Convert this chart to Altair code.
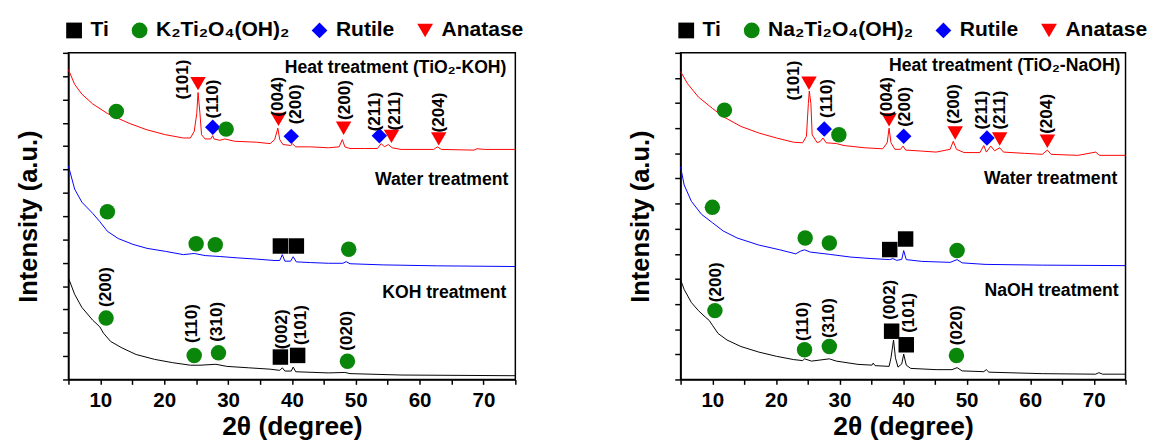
import altair as alt
import pandas as pd

FONT = "Liberation Sans"

# ---------------- data ----------------
# Left panel (KOH), y in arbitrary stacked units, domain 0..14
L_heat_x = [5.0, 5.97, 7.1, 8.8, 11.1, 14.5, 17.3, 20.2, 23.0, 24.1, 24.7, 25.1, 25.3, 25.6, 25.85, 26.4, 27.3, 27.6, 27.8, 28.7, 29.5, 31.0, 34.4, 36.6, 37.3, 37.8, 38.1, 38.6, 39.8, 40.1, 40.6, 42.9, 45.7, 47.4, 47.9, 48.3, 49.1, 51.4, 53.4, 54.0, 54.5, 55.1, 55.7, 57.1, 62.2, 62.8, 63.4, 68.5, 69.0, 70.2, 75.0]
L_heat_y = [13.28, 12.65, 12.23, 11.81, 11.40, 10.98, 10.70, 10.49, 10.35, 10.35, 10.63, 11.40, 12.30, 11.40, 10.49, 10.31, 10.31, 10.45, 10.31, 10.25, 10.31, 10.21, 10.17, 10.11, 10.28, 10.77, 10.28, 10.07, 10.03, 10.10, 9.97, 9.97, 9.93, 9.97, 10.28, 9.97, 9.90, 9.90, 9.90, 10.11, 9.97, 10.07, 9.93, 9.86, 9.86, 9.97, 9.86, 9.83, 9.89, 9.86, 9.86]
L_water_x = [5.0, 5.97, 7.1, 8.8, 9.9, 11.1, 12.8, 15.1, 17.3, 20.2, 23.0, 24.7, 26.4, 28.7, 31.5, 34.4, 37.2, 38.1, 38.5, 38.9, 39.8, 40.2, 40.7, 42.9, 45.7, 48.0, 48.5, 49.1, 54.3, 62.8, 75.0]
L_water_y = [9.15, 8.16, 7.6, 7.12, 6.77, 6.35, 6.04, 5.79, 5.62, 5.49, 5.35, 5.40, 5.31, 5.27, 5.21, 5.16, 5.10, 5.10, 5.35, 5.07, 5.07, 5.26, 5.04, 5.01, 4.98, 4.98, 5.05, 4.96, 4.91, 4.87, 4.84]
L_koh_x = [5.0, 5.97, 7.1, 8.8, 9.9, 10.5, 11.6, 13.4, 15.6, 18.5, 21.3, 24.1, 25.6, 28.1, 29.8, 33.2, 36.6, 38.1, 38.5, 38.9, 39.9, 40.2, 40.6, 45.7, 48.3, 49.1, 57.1, 75.0]
L_koh_y = [4.35, 3.65, 3.09, 2.54, 2.26, 1.98, 1.63, 1.35, 1.07, 0.86, 0.72, 0.61, 0.61, 0.65, 0.56, 0.50, 0.44, 0.39, 0.50, 0.36, 0.36, 0.53, 0.33, 0.28, 0.30, 0.25, 0.19, 0.16]

# Right panel (NaOH), domain 0..13
R_heat_x = [5.0, 6.1, 7.8, 10.0, 11.7, 14.5, 17.3, 20.1, 22.8, 24.2, 24.8, 25.1, 25.25, 25.5, 25.7, 26.5, 27.0, 27.4, 27.9, 29.5, 30.7, 34.0, 36.8, 37.5, 37.8, 38.1, 38.7, 39.6, 40.0, 40.4, 42.9, 45.2, 47.4, 47.9, 48.4, 49.6, 52.1, 52.7, 53.1, 53.8, 54.4, 55.2, 55.8, 59.1, 61.9, 62.7, 63.3, 67.5, 70.3, 70.9, 75.0]
R_heat_y = [12.25, 11.77, 11.24, 10.79, 10.46, 10.07, 9.81, 9.61, 9.44, 9.42, 9.68, 10.98, 11.48, 10.98, 9.74, 9.42, 9.48, 9.61, 9.42, 9.39, 9.31, 9.22, 9.18, 9.42, 10.0, 9.42, 9.16, 9.16, 9.29, 9.13, 9.09, 9.05, 9.16, 9.48, 9.16, 9.03, 9.03, 9.31, 9.05, 9.29, 9.10, 9.22, 9.05, 9.0, 8.96, 9.13, 8.96, 8.92, 9.05, 8.92, 8.92]
R_water_x = [5.0, 5.56, 6.7, 8.3, 10.0, 11.7, 13.9, 17.3, 20.6, 23.1, 23.9, 24.5, 25.4, 28.4, 31.8, 35.1, 37.9, 38.4, 39.0, 39.8, 40.1, 40.5, 42.9, 47.4, 48.5, 49.3, 52.9, 61.9, 75.0]
R_water_y = [8.46, 7.74, 7.09, 6.57, 6.24, 5.91, 5.63, 5.35, 5.16, 5.0, 5.11, 5.16, 5.07, 4.98, 4.87, 4.81, 4.77, 4.81, 4.74, 4.78, 5.13, 4.77, 4.70, 4.66, 4.77, 4.64, 4.58, 4.55, 4.53]
R_naoh_x = [5.0, 5.56, 6.7, 7.8, 8.9, 9.5, 10.0, 10.9, 12.3, 14.5, 17.3, 20.1, 22.8, 24.2, 24.5, 25.6, 28.4, 29.5, 32.9, 35.1, 35.3, 35.6, 37.8, 38.1, 38.5, 38.8, 39.2, 39.8, 40.1, 40.5, 41.2, 45.2, 47.7, 48.5, 49.3, 52.7, 53.1, 53.5, 61.9, 70.3, 70.8, 71.4, 75.0]
R_naoh_y = [3.97, 3.58, 3.06, 2.74, 2.48, 2.35, 2.16, 1.83, 1.57, 1.31, 1.09, 0.92, 0.79, 0.75, 0.82, 0.73, 0.82, 0.73, 0.60, 0.57, 0.65, 0.55, 0.52, 0.86, 1.57, 0.86, 0.49, 0.62, 1.01, 0.57, 0.44, 0.39, 0.39, 0.47, 0.34, 0.31, 0.39, 0.29, 0.23, 0.21, 0.27, 0.21, 0.21]

# Phase markers
L_mark_x = [12.5, 25.3, 27.6, 29.7, 37.9, 39.9, 48.1, 53.7, 55.6, 63.0,
            11.1, 25.0, 28.0, 38.2, 40.7, 48.9,
            10.9, 24.7, 28.5, 38.2, 40.9, 48.7]
L_mark_y = [11.49, 12.68, 10.81, 10.73, 11.15, 10.42, 10.77, 10.45, 10.42, 10.31,
            7.19, 5.82, 5.77, 5.72, 5.72, 5.58,
            2.63, 1.03, 1.14, 0.96, 1.03, 0.78]
L_mark_p = ["P", "Anatase", "Rutile", "P", "Anatase", "Rutile", "Anatase", "Rutile", "Anatase", "Anatase",
            "P", "P", "P", "Ti", "Ti", "P",
            "P", "P", "P", "Ti", "Ti", "P"]
R_mark_x = [11.9, 25.2, 27.6, 29.9, 37.8, 40.1, 48.2, 53.2, 55.2, 62.7,
            10.0, 24.6, 28.4, 37.9, 40.4, 48.5,
            10.4, 24.5, 28.4, 38.2, 40.5, 48.4]
R_mark_y = [10.72, 11.79, 9.97, 9.74, 10.33, 9.68, 9.81, 9.61, 9.57, 9.48,
            6.85, 5.63, 5.43, 5.17, 5.59, 5.13,
            2.74, 1.18, 1.31, 1.92, 1.38, 0.95]
R_mark_p = L_mark_p

# Miller index labels
L_hkl_t = ["(101)", "(110)", "(004)", "(200)", "(200)", "(211)", "(211)", "(204)",
           "(200)", "(110)", "(310)", "(002)", "(101)", "(020)"]
L_hkl_x = [23.0, 27.6, 37.8, 40.6, 48.3, 53.1, 56.1, 63.1,
           10.9, 24.4, 28.3, 38.4, 41.5, 48.7]
L_hkl_y = [12.86, 12.02, 12.12, 11.79, 11.98, 11.47, 11.51, 11.44,
           3.96, 2.40, 2.47, 2.15, 2.33, 2.09]
R_hkl_t = L_hkl_t
R_hkl_x = [22.8, 28.1, 37.5, 40.4, 48.1, 52.4, 55.2, 62.7,
           10.6, 24.2, 28.4, 37.9, 41.0, 48.5]
R_hkl_y = [11.9, 11.18, 11.24, 10.85, 10.96, 10.72, 10.72, 10.57,
           3.87, 2.31, 2.44, 3.17, 2.65, 2.16]

# Treatment labels
L_lab_t = ["Heat treatment (TiO\u2082-KOH)", "Water treatment", "KOH treatment"]
L_lab_x = [73.6, 73.9, 73.6]
L_lab_y = [13.35, 8.55, 3.72]
R_lab_t = ["Heat treatment (TiO\u2082-NaOH)", "Water treatment", "NaOH treatment"]
R_lab_x = [74.2, 73.7, 73.9]
R_lab_y = [12.46, 7.97, 3.52]

PHASE_COLORS = ["#000000", "#0a870a", "#0000ff", "#ff0000"]
PHASE_SHAPES = ["square", "circle", "diamond", "triangle-down"]
TRACE_COLORS = ["#ff0000", "#0000ff", "#000000"]


def panel(traces, mx, my, mp, titanate, hx, hy, ht, lx, ly, lt, ymax):
    domain = ["Ti", titanate, "Rutile", "Anatase"]
    xenc = alt.X("x:Q", scale=alt.Scale(domain=[5, 75], nice=False, zero=False),
                 axis=alt.Axis(values=list(range(5, 80, 5)),
                               labelExpr="datum.value % 10 == 0 && datum.value < 75 && datum.value > 5 ? datum.label : ''",
                               title="2\u03b8 (degree)", grid=False))
    yenc = alt.Y("y:Q", scale=alt.Scale(domain=[0, ymax], nice=False, zero=False),
                 axis=alt.Axis(values=list(range(0, ymax + 1)), labels=False,
                               title="Intensity (a.u.)", grid=False))
    layers = []
    for (tx, ty), col in zip(traces, TRACE_COLORS):
        d = pd.DataFrame({"x": tx, "y": ty})
        layers.append(alt.Chart(d).mark_line(color=col, strokeWidth=1).encode(x=xenc, y=yenc))
    md = pd.DataFrame({"x": mx, "y": my, "phase": [titanate if p == "P" else p for p in mp]})
    leg = alt.Legend(title=None, orient="none", legendX=-5, legendY=-34, direction="horizontal",
                     columns=4, labelFont=FONT, labelFontSize=21.5, labelFontWeight="bold",
                     labelColor="black", symbolSize=260, symbolStrokeWidth=0, symbolOpacity=1,
                     labelOffset=6, columnPadding=20, padding=0, labelLimit=400)
    layers.append(alt.Chart(md).mark_point(filled=True, opacity=1, size=250, strokeWidth=0).encode(
        x=xenc, y=yenc,
        color=alt.Color("phase:N", scale=alt.Scale(domain=domain, range=PHASE_COLORS), legend=leg),
        shape=alt.Shape("phase:N", scale=alt.Scale(domain=domain, range=PHASE_SHAPES), legend=leg),
    ))
    hd = pd.DataFrame({"x": hx, "y": hy, "t": ht})
    layers.append(alt.Chart(hd).mark_text(angle=270, font=FONT, fontSize=17.5, fontWeight="bold",
                                          color="black", align="center", baseline="middle").encode(
        x=xenc, y=yenc, text="t:N"))
    ld = pd.DataFrame({"x": lx, "y": ly, "t": lt})
    layers.append(alt.Chart(ld).mark_text(font=FONT, fontSize=18, fontWeight="bold",
                                          color="black", align="right", baseline="middle").encode(
        x=xenc, y=yenc, text="t:N"))
    return alt.layer(*layers).properties(width=457, height=334)


left = panel([(L_heat_x, L_heat_y), (L_water_x, L_water_y), (L_koh_x, L_koh_y)],
             L_mark_x, L_mark_y, L_mark_p, "K\u2082Ti\u2082O\u2084(OH)\u2082",
             L_hkl_x, L_hkl_y, L_hkl_t, L_lab_x, L_lab_y, L_lab_t, 14)
right = panel([(R_heat_x, R_heat_y), (R_water_x, R_water_y), (R_naoh_x, R_naoh_y)],
              R_mark_x, R_mark_y, R_mark_p, "Na\u2082Ti\u2082O\u2084(OH)\u2082",
              R_hkl_x, R_hkl_y, R_hkl_t, R_lab_x, R_lab_y, R_lab_t, 13)
right = right.properties(width=455)

chart = alt.hconcat(left, right, spacing=104).resolve_scale(
    color="independent", shape="independent"
).resolve_legend(color="independent", shape="independent").properties(
    padding={"left": 15, "top": 14, "right": 0, "bottom": 0}
).configure_view(
    stroke="black", strokeWidth=1.5
).configure_axis(
    domainColor="black", domainWidth=1.5, tickColor="black", tickWidth=1.5,
    labelFont=FONT, labelFontSize=21, labelFontWeight="bold", labelColor="black",
    titleFont=FONT, titleFontWeight="bold", titleColor="black"
).configure_axisX(
    tickSize=5, labelPadding=6, titleFontSize=27, titlePadding=3
).configure_axisY(
    tickSize=6, titleFontSize=26, titlePadding=21
)

chart.save("out.html", embed_options={"renderer": "svg", "actions": False})
